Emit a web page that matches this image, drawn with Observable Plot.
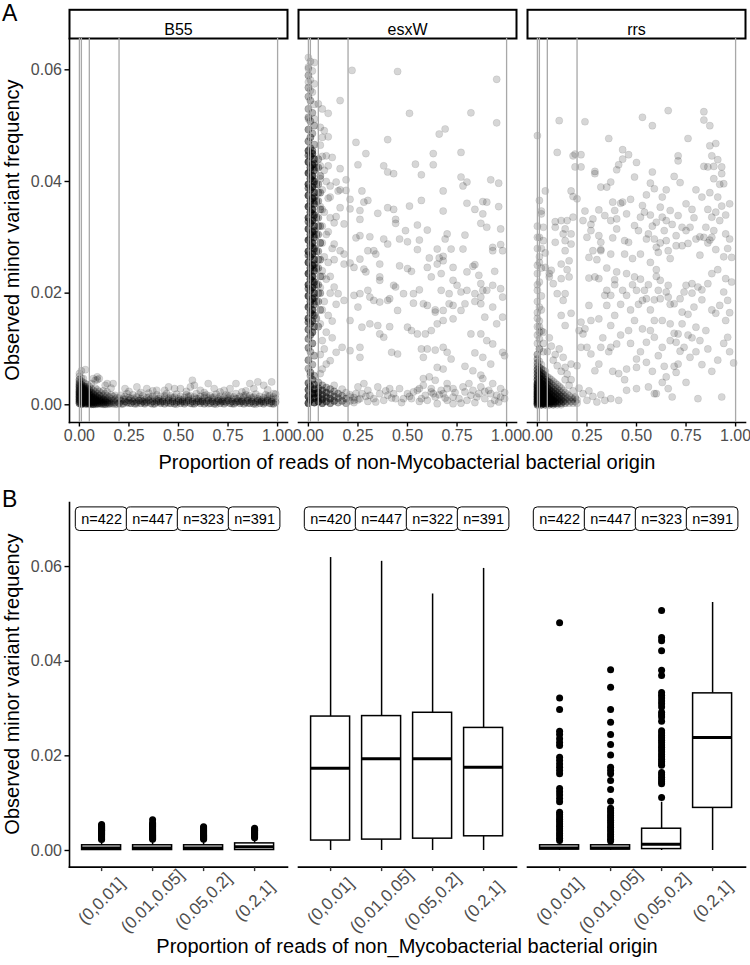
<!DOCTYPE html>
<html><head><meta charset="utf-8">
<script src="https://cdn.jsdelivr.net/npm/d3@7"></script>
<script src="https://cdn.jsdelivr.net/npm/@observablehq/plot@0.6"></script>
<style>
body{margin:0;background:#fff;}
#fig{position:relative;width:750px;height:965px;font-family:"Liberation Sans",Arial,sans-serif;background:#fff;overflow:hidden;}
#fig svg{display:block;}
#fig g[aria-label="x-axis tick label"], #fig g[aria-label="y-axis tick label"]{fill:#4d4d4d;}
#fig g[aria-label="x-axis tick"], #fig g[aria-label="y-axis tick"]{stroke-width:1.4px;stroke:#333;}
#fig g[aria-label="frame"] line{stroke-width:1.6px;}
.t{position:absolute;white-space:nowrap;color:#000;line-height:1;}
.tag{font-size:23px;}
.ttl{font-size:20px;transform:translate(-50%,-50%);}
.ttly{font-size:20px;transform:translate(-50%,-50%) rotate(-90deg);}
</style></head>
<body><div id="fig"></div>
<script>
// ---------- categories & ticks ----------
const genes = ["B55", "esxW", "rrs"];
const bins = ["(0,0.01]", "(0.01,0.05]", "(0.05,0.2]", "(0.2,1]"];
const cutPoints = [0, 0.01, 0.05, 0.2, 1];
const xTicksA = [0, 0.25, 0.5, 0.75, 1];
const yTicks = [0, 0.02, 0.04, 0.06];

// ---------- panel A scatter: "x:y[:k]"  x in hundredths, y in 1e-4, k = overlapping observations ----------
const ptsB55 = `0:3:4 0:9:4 0:15:4 0:21:4 0:27:3 0:33:3 0:39:2 0:45:2 0:51 0:56
1:1:4 1:6:4 1:12:4 1:18:4 1:24:3 1:30:3 1:36:2 1:42 1:48
2:4:4 2:10:4 2:16:4 2:22:3 2:28:3 2:34:2 2:40 2:47
3:2:4 3:8:4 3:14:3 3:20:3 3:26:2 3:32:2 3:38 3:63
4:5:4 4:11:3 4:17:3 4:23:2 4:29:2 4:36
5:2:3 5:8:3 5:14:3 5:20:2 5:27:2 5:33
6:4:3 6:10:3 6:16:2 6:22:2 6:29 6:38
7:1:3 7:7:3 7:13:2 7:19:2 7:26 7:47
8:4:3 8:10:2 8:16:2 8:23 8:30
9:2:3 9:8:2 9:14:2 9:20 9:27 9:45
10:5:2 10:11:2 10:17:2 10:24
11:2:2 11:8:2 11:14 11:21
12:4:2 12:10:2 12:17 12:25
13:1:2 13:7:2 13:13 13:20 13:35
14:4:2 14:10 14:16 14:23
15:2:2 15:8 15:14
16:5 16:11 16:18 16:30
17:2 17:8 17:15 17:38
18:4 18:10 18:17
19:1 19:7 19:13
0:6:3 0:12:3 0:18:3 0:24:3 0:30:2 0:36:2 0:42 1:3:3 1:9:3 1:15:3 1:21:3 1:27:2 1:33:2 2:7:3 2:13:3 2:19:3 2:25:2 2:31:2 3:5:3 3:11:3 3:17:2 3:23:2 3:29 4:2:3 4:8:3 4:14:2 4:20:2 4:26 5:5:3 5:11:2 5:17:2 5:23 6:1:3 6:7:2 6:13:2 6:19 7:4:2 7:10:2 7:16 8:1:2 8:7:2 8:13 9:5:2 9:11 10:2:2 10:8 11:5:2 11:11 12:1:2 12:7 13:4 13:10 14:1 14:7 15:5 16:2 17:5 18:1
1:61 9:50 10:47 8:44 14:38 23:29 29:32 34:29 39:26 43:26 48:29 57:44 58:35 56:32 51:29 61:26 68:29 71:23 76:29 79:38 86:38 90:41 93:35 97:41 98:20 88:29 82:23 65:38 45:32 25:24 31:22 37:25 54:24 63:22 73:26 84:25 95:27
20:3:2 20:12 21:7:2 21:17 22:2:2 22:10 23:6:2 23:15 24:4:2 24:20 25:8:2 25:13 26:3:2 26:11 27:6:2 27:18 28:2:2 28:9 29:5:2 29:14 30:8:2 30:19 31:3:2 31:11 32:6:2 32:16 33:2:2 33:9 34:5:2 34:13 35:8:2 35:21 36:3:2 36:10 37:6:2 37:15 38:2:2 38:12 39:5:2 39:18 40:7:2 40:11 41:3:2 41:15 42:6:2 42:9 43:2:2 43:13 44:5:2 44:20 45:8:2 45:12 46:3:2 46:16 47:6:2 47:10 48:2:2 48:14 49:5:2 49:19 50:7:2 50:11 51:3:2 51:15 52:6:2 52:9 53:2:2 53:13 54:5:2 54:18 55:8:2 55:12 56:3:2 56:16 57:6:2 57:10 58:2:2 58:14 59:5:2 59:20 60:7:2 60:11 61:3:2 61:15 62:6:2 62:9 63:2:2 63:13 64:5:2 64:18 65:8:2 65:12 66:3:2 66:16 67:6:2 67:10 68:2:2 68:14 69:5:2 69:19 70:7:2 70:11 71:3:2 71:15 72:6:2 72:9 73:2:2 73:13 74:5:2 74:18 75:8:2 75:12 76:3:2 76:16 77:6:2 77:10 78:2:2 78:14 79:5:2 79:20 80:7:2 80:11 81:3:2 81:15 82:6:2 82:9 83:2:2 83:13 84:5:2 84:18 85:8:2 85:12 86:3:2 86:16 87:6:2 87:10 88:2:2 88:14 89:5:2 89:19 90:7:2 90:11 91:3:2 91:15 92:6:2 92:9 93:2:2 93:13 94:5:2 94:18 95:8:2 95:12 96:3:2 96:16 97:6:2 97:10 98:2:2 98:14 99:5:2 99:19
21:1 23:10 25:3 27:12 29:2 31:8 33:4 35:14 37:1 39:9 41:5 43:16 45:3 47:13 49:1 51:9 53:5 55:15 57:2 59:11 61:6 63:16 65:2 67:13 69:1 71:9 73:6 75:16 77:2 79:11 81:6 83:16 85:3 87:13 89:1 91:9 93:5 95:15 97:2 99:11`;

const ptsEsxW = `0:622 3:613 0:602 0:578 1:563 22:599 45:597 95:583 16:545 5:539 7:530 10:522 51:522 82:523 95:505 0:512 3:512 6:497 8:491 69:494 66:485 7:479 10:480 24:470 40:475 29:450 63:450 77:452 9:446 12:443 25:430 38:428 40:417 43:414 54:431 63:430 57:412 6:428 10:428 16:423 19:403 14:399 11:392 16:385 15:383 19:384 77:408 80:399 78:392 92:403 96:397 27:383 30:366 28:363 21:368 11:372 68:383 57:366 51:356 43:350 40:353 35:343 26:348 21:351 16:353 14:337 13:326 18:324 26:332 44:332 44:325 84:350 80:361 88:364 90:363 88:342 96:355 68:347 49:312 60:313 55:322 70:306 79:304 87:325 90:318 97:315 24:299 26:303 31:301 38:297 40:288 46:297 50:292 56:295 69:297 72:279 65:279 78:279 66:263 68:266 68:258 61:263 55:278 93:282 97:287 93:276 98:276 13:288 16:276 18:270 18:252 21:254 23:246 26:261 30:276 33:276 34:270 28:243 29:238 36:252 36:229 36:223 46:249 50:244 52:239 60:246 65:252 67:235 73:246 73:223 75:214 80:238 83:248 84:251 86:232 87:217 88:205 94:239 93:214 97:208 53:199 56:206 62:229 67:205 71:199 77:202 80:205 84:199 87:193 90:205 98:193 13:211 15:199 18:187 23:196 25:175 26:199 30:205 31:193 33:187 36:184 40:187 41:190 44:211 43:214 45:169 48:199 53:182 58:181 60:178 64:166 64:170 68:169 71:181 73:178 77:169 79:181 84:185 87:181 89:157 93:175 98:157 21:151 27:139 31:145 35:142 36:127 38:121 41:140 50:139 52:133 55:127 59:127 62:133 65:145 68:151 73:154 82:127 87:127 90:115 93:109 95:145 98:94 99:88 21:97 26:103 26:85 42:94 45:91 57:100 60:100 64:98 68:103 70:94 72:82 58:85 84:93 88:85 92:73 65:67 68:64 79:69 83:61 88:47 87:53 81:38 64:44 58:47 61:50 70:38 17:103 14:94 11:79 9:73 7:64 6:56
21:14 25:32 28:38 30:26 33:11 36:20 40:17 44:11 46:29 50:20 53:23 57:11 60:8 64:14 68:20 70:29 73:14 76:11 79:23 82:17 85:14 89:11 92:20 95:17 97:29 93:38 87:32 83:26 78:32 73:29 67:26 62:23 59:17 56:29 52:11 48:11 41:29 38:8 35:32 31:17 26:11 24:20 99:11 96:5 92:2 73:2 70:8 65:2 62:29 58:35 55:26 43:20 34:5 47:4 51:15 56:6 63:20 69:12 74:22 80:8 86:20 91:26 94:8 97:14 99:22 42:12 39:25 30:6 27:20 23:8 29:15 66:18 77:3 84:4 89:24
1:615 0:605 2:598 0:590:2 1:582 3:575 0:568:2 2:560 0:552:2 1:545:2 3:538 0:530:2 2:523:2 0:515:2 1:508:2 3:500:2 0:493:3 2:486:2 1:479:3 0:472:3 3:466:2 1:460:3
0:455:5 2:450:5 1:445:6 3:440:4 0:435:6 2:430:6 1:425:6 3:420:4 0:415:6 2:410:6 1:405:6 3:400:4 0:395:6 2:390:6 1:385:6 3:380:4 0:375:6 2:370:6 1:365:6 3:360:4 0:355:6 2:350:6 1:345:6 3:340:4 0:335:6 2:330:6 1:325:6 3:320:4 0:315:6 2:310:6 1:305:6 3:300:4 0:295:6 2:290:6 1:285:6 3:280:4 0:275:6 2:270:6 1:265:6 3:260:4 0:255:6 2:250:6 1:245:6 3:240:4 0:235:6 2:230:6 1:225:6 3:220:4 0:215:6 2:210:6 1:205:6 3:200:4 0:195:6 2:190:5 1:185:5 3:180:3 0:175:5 2:170:5 1:165:5 3:160:3 0:155:5 2:150:4 1:145:4 3:140:3 0:135:4 2:130:4
2:455:3 0:447:3 3:432:3 1:418:3 2:402:3 0:388:3 3:372:3 1:358:3 2:342:3 0:328:3 3:312:3 1:298:3 2:282:3 0:268:3 3:252:3 1:238:3 2:222:3 0:208:3 3:192:3 1:178:3 2:162:3 0:148:3 5:425:2 5:395:2 5:365:2 5:335:2 5:305:2 5:275:2 5:245:2 5:215:2 5:185:2 6:380:2 6:320:2 6:260:2 6:200:2 7:350 7:290 7:230
1:125:3 0:118:3 2:110:3 0:102:3 1:95:2 3:88:2 0:80:3 2:72:2 0:65:2 1:58:3 3:52:2
5:440:2 4:425:2 6:410:2 4:395:3 5:380:2 4:365:3 6:350:2 4:335:3 5:320:2 4:305:3 6:290:2 4:275:3 5:260:2 4:245:3 6:230:2 4:215:3 5:200:2 4:185:2 6:170:2 4:155:2 5:140:2
6:465 7:445 8:420 6:405 9:400 7:385 10:370 6:355 8:345 11:335 7:320 9:305 6:290 12:280 8:265 10:255 7:240 9:225 6:210 11:200 8:185 7:170 10:160 6:145 9:130 7:115 12:120 8:100 6:90 10:310 13:260 11:230 14:180 12:150
0:3:6 1:9:6 0:15:6 2:21:6 0:27:5 1:33:5 0:39:4 2:45:3 1:52:2 3:4:5 3:12:5 3:20:5 3:28:4 3:36:3 5:6:5 5:14:4 5:22:4 5:30:3 5:40:2 7:3:4 7:10:4 7:18:3 7:26:3 7:35:2 9:6:3 9:14:3 9:22:3 9:31:2 11:3:3 11:11:3 11:19:2 11:28:2 13:7:3 13:15:2 13:24:2 13:35 15:4:2 15:12:2 15:20:2 17:7:2 17:16:2 17:28 19:3:2 19:11:2 19:22 21:7 21:18 23:4 23:13 25:9`;

const ptsRrs = `0:482 11:509 24:507 53:515 58:500 66:527 84:525 84:510 87:500 76:477 36:477 10:452 18:446 19:449 22:448 19:426 22:426 43:440 43:457 46:448 50:434 41:430 40:421 29:418 29:414 32:390 35:390 37:399 4:383 2:347 17:383 18:373 20:369 87:464 90:468 88:446 84:427 86:426 89:427 93:426 91:439 93:414 94:396 71:446 71:437 69:409 65:385 58:417 57:397 59:387 49:408 55:376 53:357 62:354 67:348 71:339 63:336 60:327 65:330 57:340 52:336 45:342 38:363 42:361 43:363 39:348 37:330 40:333 40:315 34:339 31:349 28:333 27:323 24:347 23:330 27:312 28:276 25:300 31:303 32:291 32:276 38:299 44:294 46:291 49:321 51:312 55:297 56:306 59:297 60:282 64:312 65:294 68:323 70:303 73:318 75:312 77:318 80:297 82:301 84:300 87:295 88:300 89:312 95:306 97:297 96:280 98:264 76:289 73:285 70:285 66:276 61:273 60:242 60:230 62:223 66:214 65:202 66:193 69:181 73:166 76:162 78:217 75:214 74:202 78:200 81:211 83:206 86:217 88:235 91:242 95:226 98:220 94:202 96:187 95:151 96:121 90:164 85:133 82:115 80:139 76:125 73:145 71:127 70:112 74:103 77:85 71:73 69:69 64:69 65:50 68:14 60:20 66:29 63:103 59:121 57:133 53:136 49:151 46:133 42:125 40:109 37:103 32:103 31:73 29:61 27:91 25:103 22:103 20:70 17:73 14:67 50:67 50:82 55:76 45:64 41:56 37:11 41:8 45:26 50:29 56:32 59:20 81:11 93:14 37:142 39:160 35:178 37:196 34:196 45:196 54:205 53:187 55:190 59:188 59:151 63:151 67:145 69:128 50:205 49:229 45:235 40:238 39:224 35:245 31:226 29:229 26:227 37:270 32:278 30:260 26:264 26:178 31:154 27:151 24:136 23:127 21:133 22:148 17:164 14:142 12:160 10:199 8:217 12:226 6:235 4:246 4:272 3:294 3:318 2:342 1:366 6:229 14:199 13:187 16:229 15:242 16:258 12:252 14:276 14:294 13:306 17:306 17:288 14:315 9:318 9:328 12:330 15:330 18:336 9:291 7:241
86:350 88:336 90:345 92:330 85:318 91:372 93:356 87:380 95:340 89:405 92:395 97:360 83:372 80:385 78:350 86:290 90:278 94:265 82:268 79:335 75:360 72:398 48:262 52:270 57:255 62:290 67:262 54:345 47:368 63:372 58:320 44:270
33:120 36:95 38:60 44:45 47:110 52:95 55:112 58:60 61:88 63:40 67:115 70:58 72:96 75:40 78:120 80:95 83:72 86:100 88:60 91:80 94:110 97:95 99:75 42:180 47:170 51:180 57:170 62:190 67:180 72:190 79:175 83:188 88:170 92:178 97:165 35:205 39:215 43:205 48:215 52:225 56:215 61:205
0:320 1:300 0:280 1:265 0:250 2:245 0:235 1:220 0:205 2:195 0:185 1:175 0:165 1:150 0:140 2:132 0:125 1:118 0:110 1:100 3:95 0:90 0:300 2:280 1:255 0:215 2:170 0:155 1:130
0:3:6 0:9:6 0:15:6 0:21:6 0:27:5 0:33:5 0:39:4 0:45:4 0:51:3 0:57:3 0:63:3 0:69:2 0:75:2 0:82:2 0:90
1:6:6 1:12:6 1:18:6 1:24:5 1:30:5 1:36:4 1:42:4 1:48:3 1:54:3 1:60:2 1:67:2 1:78
2:3:6 2:9:6 2:15:5 2:21:5 2:27:5 2:33:4 2:39:4 2:45:3 2:51:3 2:57:2 2:64:2 2:72
3:6:5 3:12:5 3:18:5 3:24:4 3:30:4 3:36:3 3:42:3 3:48:2 3:55:2 3:62
4:3:5 4:9:5 4:15:4 4:21:4 4:27:4 4:33:3 4:39:3 4:45:2 4:52:2 4:60
5:6:4 5:12:4 5:18:4 5:24:3 5:30:3 5:36:2 5:42:2 5:50
6:3:4 6:9:4 6:15:3 6:21:3 6:27:3 6:33:2 6:40:2 6:48
7:6:3 7:12:3 7:18:3 7:24:2 7:30:2 7:37 7:45
8:3:3 8:9:3 8:15:3 8:21:2 8:27:2 8:34 8:42
9:6:3 9:12:2 9:18:2 9:24:2 9:31 9:39
10:3:2 10:9:2 10:15:2 10:21:2 10:28 10:36
11:6:2 11:12:2 11:18:2 11:25 11:33
12:3:2 12:9:2 12:15:2 12:22 12:30
13:6:2 13:12 13:18 13:26 14:3:2 14:9 14:15 14:22
15:6 15:12 15:19 16:3 16:9 16:16 17:6 17:13 18:3 18:10 19:6 19:14 20:3 20:9
0:0:4 0:6:4 0:12:4 0:18:4 0:24:3 0:30:3 0:36:3 1:3:4 1:9:4 1:15:4 1:21:3 1:27:3 2:0:4 2:6:4 2:12:3 2:18:3 2:24:3 3:3:3 3:9:3 3:15:3 3:21:2 4:0:3 4:6:3 4:12:3 4:18:2 5:3:3 5:9:2 5:15:2 6:0:2 6:6:2 6:12:2 7:3:2 7:9:2 8:0:2 8:6:2 9:3:2 10:0 11:3 12:0
1:100 3:110 5:95 7:105 9:90 11:100 13:85 3:130 6:120 1:140 8:80 10:70 12:60 14:45 16:35 18:25 15:55 17:45 19:12 21:30 23:20 25:8 26:25 28:15 30:5 32:18 34:8`;

// ---------- panel B box statistics (per mille), order: gene-major, bin-minor ----------
const nObs   = [422, 447, 323, 391,   420, 447, 322, 391,   422, 447, 323, 391];
const boxLo  = [0, 0, 0, 0,           0, 0, 0, 0,           0, 0, 0, 0];
const boxQ1  = [0.1, 0.1, 0.1, 0.1,   2.1, 2.3, 2.5, 3.0,   0.2, 0.2, 0.3, 9.0];
const boxMed = [0.5, 0.5, 0.5, 0.8,   17.4, 19.4, 19.4, 17.6, 0.5, 0.5, 1.3, 23.9];
const boxQ3  = [1.1, 1.1, 1.1, 1.5,   28.3, 28.4, 29.1, 25.9, 1.1, 1.1, 4.6, 33.2];
const boxHi  = [2.1, 2.2, 2.2, 2.4,   61.9, 61.1, 54.2, 59.6, 1.7, 1.7, 10.2, 52.4];
const outliers = [
  "2.3 2.5 2.7 2.9 3.1 3.3 3.5 3.7 3.9 4.1 4.3 4.5 4.7 4.9 5.1 5.3 5.5",
  "2.4 2.6 2.8 3.0 3.2 3.4 3.6 3.8 4.0 4.2 4.4 4.6 4.8 5.0 5.2 5.4 5.6 5.8 6.5",
  "2.4 2.6 2.8 3.0 3.2 3.4 3.6 3.8 4.0 4.2 4.4 4.6 4.8 5.0",
  "2.7 2.9 3.1 3.3 3.5 3.7 3.9 4.1 4.3 4.5 4.7",
  "", "", "", "",
  "48.1 32.2 29.8 25.2 24.5 23.6 22.8 22.2 19.7 19.0 18.3 17.6 16.9 16.2 13.1 12.4 11.7 11.0 10.3 8.1 7.6 7.1 6.6 6.1 5.6 5.1 4.6 4.1 3.6 3.1 2.6 2.1",
  "38.2 34.5 29.8 27.1 24.5 22.4 20.2 17.6 16.9 16.2 14.8 12.9 10.4 8.9 8.4 7.9 7.4 6.9 6.4 5.9 5.4 4.9 4.4 3.9 3.4 2.9 2.4 2.0",
  "50.7 45.0 44.3 42.2 38.1 37.0 33.4 32.8 32.2 31.6 31.0 30.3 29.2 28.7 28.2 27.3 25.3 24.8 24.3 23.8 23.3 22.8 22.3 21.8 21.3 20.8 20.3 19.8 19.3 18.8 18.3 18.0 16.5 16.0 15.5 15.0 14.5 14.1 11.2",
  ""
];
const labelY = 0.07;

// ---------- build tables ----------
function parsePts(str, gene) {
  return str.trim().split(/\s+/).map(s => {
    const [x, y, k] = s.split(":").map(Number);
    return {gene, x: x / 100, y: y / 10000, k: k || 1};
  });
}
const points = [...parsePts(ptsB55, "B55"), ...parsePts(ptsEsxW, "esxW"), ...parsePts(ptsRrs, "rrs")];
const alpha = 0.16;
const op = d => 1 - Math.pow(1 - alpha, d.k);

const boxRows = [], outRows = [];
genes.forEach((g, gi) => bins.forEach((b, bi) => {
  const i = gi * 4 + bi;
  boxRows.push({gene: g, bin: b, n: nObs[i], lo: boxLo[i] / 1000, q1: boxQ1[i] / 1000,
    med: boxMed[i] / 1000, q3: boxQ3[i] / 1000, hi: boxHi[i] / 1000});
  if (outliers[i]) outliers[i].split(/\s+/).forEach(v => outRows.push({gene: g, bin: b, y: +v / 1000}));
}));

const fxOpts = {domain: genes, paddingInner: 0.0484, paddingOuter: 0, axis: null, label: null};
const baseStyle = {fontFamily: "Liberation Sans, Arial, sans-serif", fontSize: "16px", color: "black", background: "white"};

// ---------- panel A ----------
const chartA = Plot.plot({
  width: 750, height: 472,
  marginLeft: 68.4, marginRight: 4.8, marginTop: 38, marginBottom: 50,
  style: baseStyle,
  fx: fxOpts,
  x: {domain: [-0.05, 1.05], ticks: xTicksA, tickFormat: ".2f", label: null, line: true, tickSize: 4.5, tickPadding: 3},
  y: {domain: [-0.00317, 0.06561], ticks: yTicks, tickFormat: ".2f", label: null, line: true, tickSize: 4.5, tickPadding: 3},
  marks: [
    Plot.frame({insetTop: -28.7, insetBottom: 384, fill: "white", stroke: "black", strokeWidth: 2}),
    Plot.text(genes, {fx: d => d, text: d => d, frameAnchor: "top", dy: -14.5, fontSize: 16, fill: "black"}),
    Plot.dot(points, {fx: "gene", x: "x", y: "y", r: 3.6, fill: "black", fillOpacity: op,
      stroke: "black", strokeOpacity: op, strokeWidth: 0.5}),
    Plot.ruleX(cutPoints, {stroke: "#a8a8a8", strokeWidth: 1.3})
  ]
});

// ---------- panel B ----------
const chartB = Plot.plot({
  width: 750, height: 493,
  marginLeft: 68.4, marginRight: 4.8, marginTop: 30, marginBottom: 98.4,
  style: baseStyle,
  fx: fxOpts,
  x: {domain: bins, paddingInner: 0.23, paddingOuter: 0.215, label: null},
  y: {domain: [-0.00351, 0.07353], ticks: yTicks, tickFormat: ".2f", label: null, line: true, tickSize: 4.5, tickPadding: 3},
  marks: [
    Plot.frame({anchor: "bottom", strokeWidth: 1.6}),
    Plot.axisX({tickSize: 4.5, fill: "none", label: null, stroke: "#333", strokeWidth: 1.4}),
    Plot.text(boxRows, {fx: "gene", x: "bin", text: "bin", frameAnchor: "bottom", dy: 34, rotate: -45,
      textAnchor: "middle", lineAnchor: "middle", fontSize: 17, fill: "#4d4d4d"}),
    Plot.barY(boxRows, {fx: "gene", x: "bin", y1: () => labelY, y2: () => labelY,
      insetTop: -11.8, insetBottom: -11.8, insetLeft: -6.3, insetRight: -6.3, rx: 4,
      fill: "white", stroke: "black", strokeWidth: 1}),
    Plot.text(boxRows, {fx: "gene", x: "bin", y: () => labelY, text: d => "n=" + d.n, fontSize: 14.5, fill: "black"}),
    Plot.dot(outRows, {fx: "gene", x: "bin", y: "y", r: 3.5, fill: "black"}),
    Plot.ruleX(boxRows, {fx: "gene", x: "bin", y1: "lo", y2: "q1", strokeWidth: 1.5}),
    Plot.ruleX(boxRows, {fx: "gene", x: "bin", y1: "q3", y2: "hi", strokeWidth: 1.5}),
    Plot.barY(boxRows, {fx: "gene", x: "bin", y1: "q1", y2: "q3", fill: "white", stroke: "black", strokeWidth: 1.5}),
    Plot.tickY(boxRows, {fx: "gene", x: "bin", y: "med", strokeWidth: 3})
  ]
});

const fig = document.getElementById("fig");
fig.append(chartA, chartB);

function addText(txt, cls, left, top) {
  const d = document.createElement("div");
  d.className = "t " + cls;
  d.textContent = txt;
  d.style.left = left + "px";
  d.style.top = top + "px";
  fig.appendChild(d);
}
addText("A", "tag", 2, 2);
addText("B", "tag", 2, 488);
addText("Observed minor variant frequency", "ttly", 12, 230);
addText("Observed minor variant frequency", "ttly", 12, 684);
addText("Proportion of reads of non-Mycobacterial bacterial origin", "ttl", 407, 462);
addText("Proportion of reads of non_Mycobacterial bacterial origin", "ttl", 407, 946);
</script>
</body></html>
